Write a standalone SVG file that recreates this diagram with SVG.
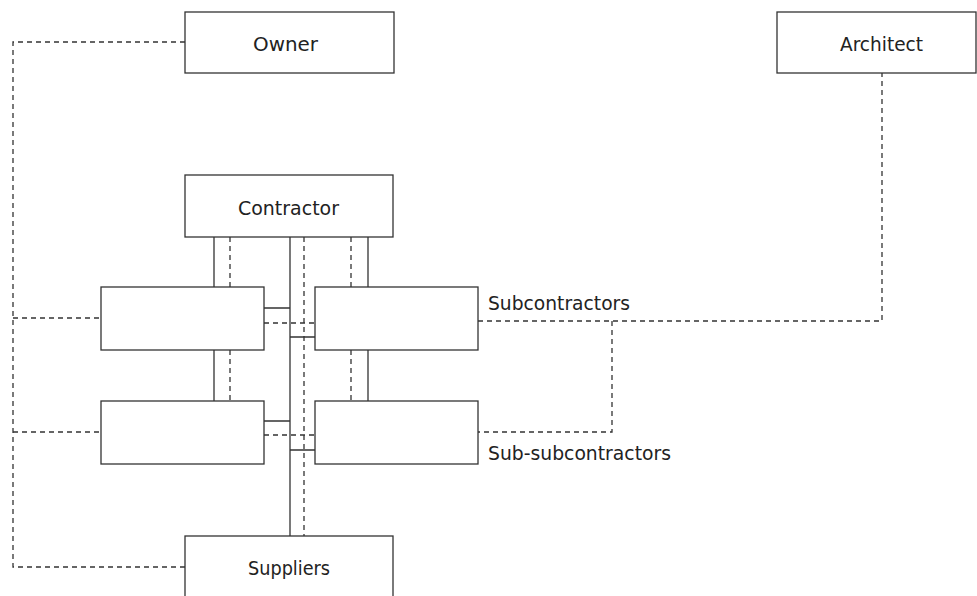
<svg xmlns="http://www.w3.org/2000/svg" width="977" height="596" viewBox="0 0 977 596">
<style>
.box{fill:#fff;stroke:#333;stroke-width:1.3}
.s{fill:none;stroke:#333;stroke-width:1.3}
.d{fill:none;stroke:#333;stroke-width:1.3;stroke-dasharray:5,4}
text{font-family:"DejaVu Sans","Liberation Sans",sans-serif;font-size:19px;fill:#222}
</style>
<rect width="977" height="596" fill="#fff"/>
<g id="connectors">
<path class="d" d="M185,42 H13 V567 H185 M13,318 H101 M13,432 H101"/>
<path class="s" d="M214,237 V287 M368,237 V287 M214,350 V401 M368,350 V401 M290,237 V536"/>
<path class="d" d="M230,237 V287 M351,237 V287 M230,350 V401 M351,350 V401 M304,237 V536"/>
<path class="s" d="M264,308 H290 M290,337 H315 M264,421 H290 M290,450 H315"/>
<path class="d" d="M264,323 H315 M264,435 H315"/>
<path class="d" d="M478,321 H882 V73 M612,321 V432 H478"/>
</g>
<g id="owner"><rect class="box" x="185" y="12" width="209" height="61"/><text x="253" y="51" textLength="65" lengthAdjust="spacingAndGlyphs">Owner</text></g>
<g id="architect"><rect class="box" x="777" y="12" width="199" height="61"/><text x="840" y="51" textLength="83" lengthAdjust="spacingAndGlyphs">Architect</text></g>
<g id="contractor"><rect class="box" x="185" y="175" width="208" height="62"/><text x="238" y="215" textLength="101" lengthAdjust="spacingAndGlyphs">Contractor</text></g>
<g id="sub-left"><rect class="box" x="101" y="287" width="163" height="63"/></g>
<g id="sub-right"><rect class="box" x="315" y="287" width="163" height="63"/><text x="488" y="310" textLength="142" lengthAdjust="spacingAndGlyphs">Subcontractors</text></g>
<g id="subsub-left"><rect class="box" x="101" y="401" width="163" height="63"/></g>
<g id="subsub-right"><rect class="box" x="315" y="401" width="163" height="63"/><text x="488" y="460" textLength="183" lengthAdjust="spacingAndGlyphs">Sub-subcontractors</text></g>
<g id="suppliers"><rect class="box" x="185" y="536" width="208" height="62"/><text x="248" y="575" textLength="82" lengthAdjust="spacingAndGlyphs">Suppliers</text></g>
</svg>
